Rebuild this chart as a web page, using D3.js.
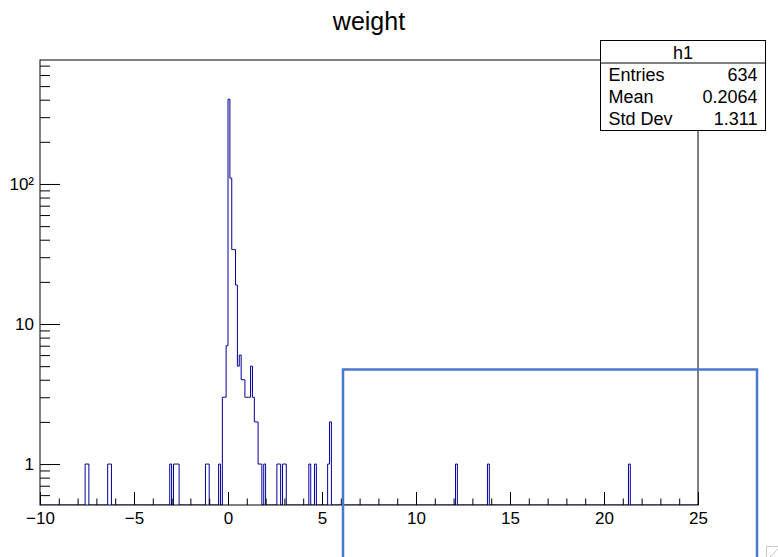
<!DOCTYPE html>
<html>
<head>
<meta charset="utf-8">
<script src="https://cdn.jsdelivr.net/npm/d3@7"></script>
<style>
  body { margin: 0; background: #fff; }
  text { font-family: "Liberation Sans", Arial, sans-serif; fill: #000; }
</style>
</head>
<body>
<div id="graph"></div>
<script>
// histogram h1 : 350 bins of 0.1 from -10 to 25, only the filled bins listed
var xMin = -10, xMax = 25, binWidth = 0.1;
var binLow = [ -7.6, -7.5, -6.4, -6.3, -3.1, -2.9, -2.8, -2.7, -1.2, -1.1, -0.5,
    -0.3, -0.2, -0.1, 0.0, 0.1, 0.2, 0.3, 0.4, 0.5, 0.6, 0.7, 0.8, 0.9,
    1.0, 1.1, 1.2, 1.3, 1.4, 1.5, 1.6, 1.7, 1.9,
    2.6, 2.7, 2.9, 3.0, 4.3, 4.6, 5.3, 5.4, 12.1, 13.8, 21.3 ];
var binCount = [ 1, 1, 1, 1, 1, 1, 1, 1, 1, 1, 1,
    3, 3, 7, 403, 110, 34, 34, 19, 5, 6, 4, 4, 3,
    3, 3, 5, 3, 2, 2, 1, 1, 1,
    1, 1, 1, 1, 1, 1, 1, 2, 1, 1, 1 ];

var xMajor = [ -10, -5, 0, 5, 10, 15, 20, 25 ];
var xMajorLabels = [ "\u221210", "\u22125", "0", "5", "10", "15", "20", "25" ];
var yMajor = [ 1, 10, 100 ];
var yMajorLabels = [ "1", "10", "10\u00b2" ];
var yRange = [ 0.51, 768 ];

var statsTitle = "h1";
var statsNames = [ "Entries", "Mean", "Std Dev" ];
var statsValues = [ "634", "0.2064", "1.311" ];

var width = 778, height = 557;
var frame = { left: 40, right: 698, top: 60, bottom: 505 };

var svg = d3.select( "#graph" ).append( "svg" )
    .attr( "width", width )
    .attr( "height", height );

var x = d3.scaleLinear().domain( [ xMin, xMax ] ).range( [ frame.left, frame.right ] );
var y = d3.scaleLog().domain( yRange ).range( [ frame.bottom, frame.top ] );

drawTitle( svg );
drawHistogram( svg, x, y );
drawFrame( svg, x, y );
drawStats( svg );
drawOverlay( svg );

function drawTitle( svg ) {
    svg.append( "text" )
        .attr( "x", 369 )
        .attr( "y", 30 )
        .attr( "text-anchor", "middle" )
        .style( "font-size", "25px" )
        .text( "weight" );
}

function drawHistogram( svg, x, y ) {
    var nBins = Math.round( ( xMax - xMin ) / binWidth );
    var counts = d3.range( nBins ).map( function() { return 0; } );
    binLow.forEach( function( lo, i ) {
        counts[ Math.round( ( lo - xMin ) / binWidth ) ] = binCount[ i ];
    });

    // step outline, empty bins fall to the bottom of the frame (log scale)
    var pts = [ [ x( xMin ), frame.bottom ] ];
    counts.forEach( function( c, i ) {
        var yy = c > 0 ? y( c ) : frame.bottom;
        pts.push( [ x( xMin + i * binWidth ), yy ] );
        pts.push( [ x( xMin + ( i + 1 ) * binWidth ), yy ] );
    });
    pts.push( [ x( xMax ), frame.bottom ] );

    svg.append( "clipPath" ).attr( "id", "clip" )
        .append( "rect" )
        .attr( "x", frame.left ).attr( "y", frame.top )
        .attr( "width", frame.right - frame.left )
        .attr( "height", frame.bottom - frame.top );

    svg.append( "path" )
        .attr( "clip-path", "url(#clip)" )
        .attr( "d", d3.line()( pts ) )
        .attr( "fill", "none" )
        .attr( "stroke", "#000099" )
        .attr( "stroke-width", 1 );
}

function drawFrame( svg, x, y ) {
    svg.append( "rect" )
        .attr( "x", frame.left ).attr( "y", frame.top )
        .attr( "width", frame.right - frame.left )
        .attr( "height", frame.bottom - frame.top )
        .attr( "fill", "none" )
        .attr( "stroke", "#000" );

    // x axis: minor ticks each unit, major every 5
    var xMinor = d3.range( xMin, xMax + 1, 1 ).filter( function( d ) { return xMajor.indexOf( d ) < 0; } );
    svg.append( "g" )
        .attr( "transform", "translate(0," + frame.bottom + ")" )
        .call( d3.axisBottom( x ).tickValues( xMinor ).tickSize( -6.5 ).tickFormat( "" ) )
        .call( function( g ) { g.select( ".domain" ).remove(); } );
    svg.append( "g" )
        .attr( "transform", "translate(0," + frame.bottom + ")" )
        .call( d3.axisBottom( x ).tickValues( xMajor ).tickSize( -13 ).tickPadding( 7 )
            .tickFormat( function( d, i ) { return xMajorLabels[ i ]; } ) )
        .call( function( g ) {
            g.select( ".domain" ).remove();
            g.selectAll( "text" ).style( "font-size", "17px" );
        });

    // y axis: log decades with 2..9 minor ticks
    var yMinor = [];
    [ 0.1, 1, 10, 100 ].forEach( function( dec ) {
        d3.range( 2, 10 ).forEach( function( k ) {
            var v = dec * k;
            if ( v >= yRange[ 0 ] && v <= yRange[ 1 ] ) yMinor.push( v );
        });
    });
    svg.append( "g" )
        .attr( "transform", "translate(" + frame.left + ",0)" )
        .call( d3.axisLeft( y ).tickValues( yMinor ).tickSize( -10 ).tickFormat( "" ) )
        .call( function( g ) { g.select( ".domain" ).remove(); } );
    svg.append( "g" )
        .attr( "transform", "translate(" + frame.left + ",0)" )
        .call( d3.axisLeft( y ).tickValues( yMajor ).tickSize( -20 ).tickPadding( 6 )
            .tickFormat( function( d, i ) { return yMajorLabels[ i ]; } ) )
        .call( function( g ) {
            g.select( ".domain" ).remove();
            g.selectAll( "text" ).style( "font-size", "17px" );
        });

    svg.selectAll( ".tick line" ).attr( "stroke", "#000" );
}

function drawStats( svg ) {
    var bx = 600.5, by = 40.5, bw = 165, bh = 90, head = 22.5, row = 22;
    var g = svg.append( "g" );
    g.append( "rect" )
        .attr( "x", bx ).attr( "y", by )
        .attr( "width", bw ).attr( "height", bh )
        .attr( "fill", "#fff" )
        .attr( "stroke", "#000" );
    g.append( "line" )
        .attr( "x1", bx ).attr( "x2", bx + bw )
        .attr( "y1", by + head ).attr( "y2", by + head )
        .attr( "stroke", "#000" );
    g.append( "text" )
        .attr( "x", bx + bw / 2 ).attr( "y", by + 18 )
        .attr( "text-anchor", "middle" )
        .style( "font-size", "18px" )
        .text( statsTitle );
    statsNames.forEach( function( name, i ) {
        var yy = by + head + 18 + i * row;
        g.append( "text" )
            .attr( "x", bx + 8 ).attr( "y", yy )
            .style( "font-size", "18px" )
            .text( name );
        g.append( "text" )
            .attr( "x", bx + bw - 8 ).attr( "y", yy )
            .attr( "text-anchor", "end" )
            .style( "font-size", "18px" )
            .text( statsValues[ i ] );
    });
}

function drawOverlay( svg ) {
    // zoom selection rectangle left on the canvas
    svg.append( "rect" )
        .attr( "x", 343 ).attr( "y", 369.5 )
        .attr( "width", 414 ).attr( "height", 200 )
        .attr( "fill", "none" )
        .attr( "stroke", "#4a78cc" )
        .attr( "stroke-width", 2.5 );

    // resize grip in the corner
    svg.append( "path" )
        .attr( "d", "M766.5,557V546.5H778 M770,557L778,549" )
        .attr( "fill", "none" )
        .attr( "stroke", "#c8c8c8" );
}
</script>
</body>
</html>
